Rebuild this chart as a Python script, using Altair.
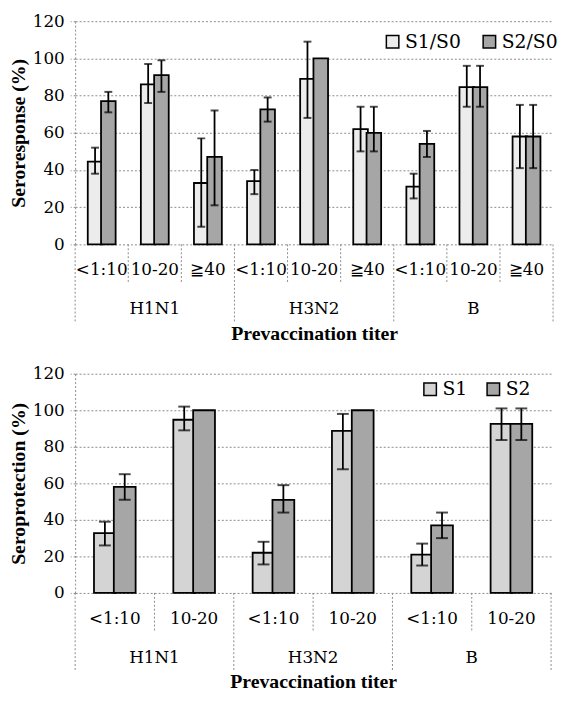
import altair as alt
import pandas as pd

# ---------------- data ----------------
strains = ["H1N1", "H3N2", "B"]

titers_top = ["<1:10", "10-20", "≧40"]
series_top = ["S1/S0", "S2/S0"]
s1_top = [44.5, 86, 33, 34, 89, 62, 31, 84.5, 58]
s1_top_lo = [38, 76, 9.5, 27, 68, 50, 24.7, 74, 41]
s1_top_hi = [52, 97, 57, 40, 109, 74, 38, 96, 75]
s2_top = [77, 91, 47, 72.6, 100, 60, 54, 84.5, 58]
s2_top_lo = [71, 82, 21, 66, None, 50, 47, 74, 41]
s2_top_hi = [82, 99, 72, 79, None, 74, 61, 96, 75]

titers_bot = ["<1:10", "10-20"]
series_bot = ["S1", "S2"]
s1_bot = [32.7, 94.8, 22, 88.7, 21, 92.6]
s1_bot_lo = [26, 89, 15.6, 67.7, 15, 83.7]
s1_bot_hi = [39, 102, 28, 98, 27, 101]
s2_bot = [58, 100, 51, 100, 37, 92.6]
s2_bot_lo = [51, None, 44, None, 30, 83.7]
s2_bot_hi = [65, None, 59, None, 44, 101]

colors_top = ["#ececec", "#a6a6a6"]
colors_bot = ["#d4d4d4", "#a6a6a6"]

TICK_FONT = "DejaVu Serif"
TITLE_FONT = "Liberation Serif"
GRID = "#8a8a8a"


def panel(titers, series, v1, lo1, hi1, v2, lo2, hi2, colors, ytitle,
          W, H, cap, lx, ly, colpad):
    cats = [f"{s}|{t}" for s in strains for t in titers]
    # band domain: a gap slot, the two series, a gap slot for every category
    domain = []
    for c in cats:
        domain += [f"{c}|L", f"{c}|{series[0]}", f"{c}|{series[1]}", f"{c}|R"]

    rows = []
    for i, c in enumerate(cats):
        rows.append(dict(key=f"{c}|{series[0]}", series=series[0],
                         value=v1[i], lo=lo1[i], hi=hi1[i]))
        rows.append(dict(key=f"{c}|{series[1]}", series=series[1],
                         value=v2[i], lo=lo2[i], hi=hi2[i]))
    df = pd.DataFrame(rows)
    err = df.dropna(subset=["lo"])
    caps = pd.concat([
        err[["key", "series", "lo"]].rename(columns={"lo": "cap"}),
        err[["key", "series", "hi"]].rename(columns={"hi": "cap"}),
    ])
    n = len(titers)
    # category labels sit between the two bars of a category
    cat_df = pd.DataFrame({"key": [f"{c}|{series[0]}" for c in cats],
                           "label": [c.split("|")[1] for c in cats]})
    small_sep = pd.DataFrame({"key": [f"{c}|L" for i, c in enumerate(cats) if i % n != 0]})
    long_sep = pd.DataFrame({"key": [f"{c}|L" for i, c in enumerate(cats) if i % n == 0]})
    end_sep = pd.DataFrame({"key": [f"{cats[-1]}|R"]})
    if n == 3:
        grp_keys = [f"{s}|{titers[1]}|{series[0]}" for s in strains]
    else:
        grp_keys = [f"{s}|{titers[0]}|R" for s in strains]
    grp_df = pd.DataFrame({"key": grp_keys, "label": strains})

    xaxis = alt.Axis(labels=False, ticks=False, domain=False, grid=False,
                     title="Prevaccination titer", titlePadding=80,
                     titleFont=TITLE_FONT, titleFontSize=20,
                     titleFontWeight="bold", titleColor="black")
    xscale = alt.Scale(domain=domain, paddingInner=0, paddingOuter=0)

    def X(bp=None):
        kw = dict(scale=xscale, axis=xaxis)
        if bp is not None:
            kw["bandPosition"] = bp
        return alt.X("key:N", **kw)

    yaxis = alt.Axis(values=[0, 20, 40, 60, 80, 100, 120], title=ytitle,
                     titleFont=TITLE_FONT, titleFontSize=20, titleFontWeight="bold",
                     titleColor="black", titlePadding=4,
                     labelFont=TICK_FONT, labelFontSize=17, labelColor="black",
                     labelPadding=6, tickSize=5, tickColor=GRID, tickDash=[2, 2],
                     domainColor=GRID, domainDash=[2, 2],
                     gridColor=GRID, gridDash=[2, 2], gridWidth=1)
    yscale = alt.Scale(domain=[0, 120], nice=False)

    def Y(f):
        return alt.Y(f"{f}:Q", scale=yscale, axis=yaxis)

    bars = alt.Chart(df).mark_bar(stroke="black", strokeWidth=1.8,
                                  width=alt.RelativeBandSize(1.1)).encode(
        x=X(), y=Y("value"),
        color=alt.Color("series:N", sort=series,
                        scale=alt.Scale(domain=series, range=colors),
                        legend=alt.Legend(orient="none", legendX=lx, legendY=ly,
                                          direction="horizontal", title=None,
                                          symbolType="square", symbolSize=160,
                                          symbolStrokeColor="black",
                                          symbolStrokeWidth=1.5, symbolOpacity=1,
                                          labelFont=TICK_FONT, labelFontSize=19,
                                          labelColor="black", labelOffset=3,
                                          columnPadding=colpad)),
    )
    rules = alt.Chart(err).mark_rule(color="black", strokeWidth=1.8).encode(
        x=X(), y=Y("lo"), y2="hi:Q")
    ticks = alt.Chart(caps).mark_tick(color="black", thickness=2, size=cap,
                                      orient="horizontal").encode(
        x=X(), y=Y("cap"))
    sep_style = dict(color=GRID, strokeDash=[2, 2], strokeWidth=1)
    s_small = alt.Chart(small_sep).mark_rule(**sep_style).encode(
        x=X(0), y=alt.value(H), y2=alt.value(H + 40))
    s_long = alt.Chart(long_sep).mark_rule(**sep_style).encode(
        x=X(0), y=alt.value(H), y2=alt.value(H + 78))
    s_end = alt.Chart(end_sep).mark_rule(**sep_style).encode(
        x=X(1), y=alt.value(H), y2=alt.value(H + 78))
    cat_text = alt.Chart(cat_df).mark_text(font=TICK_FONT, fontSize=17, color="black",
                                           baseline="middle").encode(
        x=X(1), y=alt.value(H + 26), text="label:N")
    grp_text = alt.Chart(grp_df).mark_text(font=TICK_FONT, fontSize=17, color="black",
                                           baseline="middle").encode(
        x=X(1), y=alt.value(H + 66), text="label:N")

    return alt.layer(bars, rules, ticks, s_small, s_long, s_end, cat_text, grp_text
                     ).properties(width=W, height=H)


top = panel(titers_top, series_top, s1_top, s1_top_lo, s1_top_hi,
            s2_top, s2_top_lo, s2_top_hi, colors_top, "Seroresponse (%)",
            W=484, H=226, cap=8, lx=312, ly=11, colpad=19)
bot = panel(titers_bot, series_bot, s1_bot, s1_bot_lo, s1_bot_hi,
            s2_bot, s2_bot_lo, s2_bot_hi, colors_bot, "Seroprotection (%)",
            W=482, H=222, cap=12, lx=350, ly=6, colpad=16)

chart = (alt.vconcat(top, bot, spacing=22)
         .resolve_scale(color="independent")
         .resolve_legend(color="independent")
         .properties(padding=0)
         .configure_view(stroke=None))

chart.save("out.html", embed_options={"renderer": "svg", "actions": False})
